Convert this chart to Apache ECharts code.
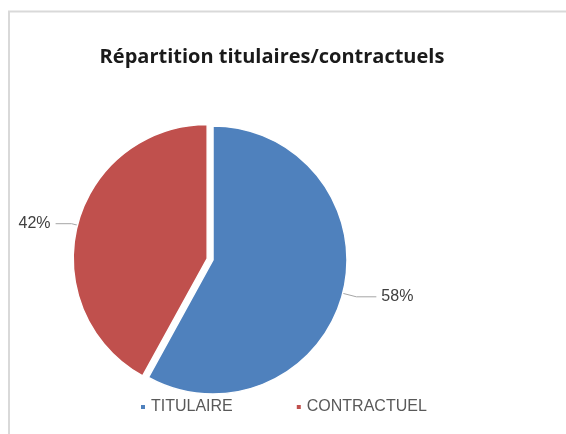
<!DOCTYPE html>
<html>
<head>
<meta charset="utf-8">
<script src="https://cdn.jsdelivr.net/npm/echarts@6/dist/echarts.min.js"></script>
<style>
  html, body { margin: 0; padding: 0; background: #fff; }
  #chart { width: 566px; height: 434px; }
</style>
</head>
<body>
<div id="chart"></div>
<script>
// données
const categories = ['TITULAIRE', 'CONTRACTUEL'];
const values = [58, 42];
const colors = ['#4f81bd', '#c0504d'];

const chart = echarts.init(document.getElementById('chart'));

chart.setOption({
    animation: false,
    title: {
        text: 'Répartition titulaires/contractuels',
        left: 267,
        textAlign: 'center',
        top: 42,
        textStyle: { fontFamily: 'Open Sans', fontWeight: 'bold', fontSize: 20, color: '#1a1a1a' }
    },
    legend: {
        data: categories,
        bottom: 14,
        left: 134,
        icon: 'rect',
        itemWidth: 6,
        itemHeight: 6,
        itemGap: 62,
        textStyle: { fontFamily: 'Liberation Sans', fontSize: 16, color: '#595959' }
    },
    graphic: [
        { type: 'line', shape: { x1: 8, y1: 11.5, x2: 566, y2: 11.5 }, style: { stroke: '#d9d9d9', lineWidth: 2 } },
        { type: 'line', shape: { x1: 9, y1: 11, x2: 9, y2: 434 }, style: { stroke: '#d9d9d9', lineWidth: 2 } }
    ],
    series: [{
        type: 'pie',
        center: [213, 260],
        radius: 134,
        startAngle: 90,
        clockwise: true,
        selectedMode: 'single',
        selectedOffset: 6,
        itemStyle: { borderColor: '#fff', borderWidth: 1.5 },
        label: {
            show: true,
            position: 'outside',
            formatter: '{d}%',
            fontFamily: 'Liberation Sans',
            fontSize: 16,
            color: '#404040'
        },
        labelLine: { length: 12, length2: 12, lineStyle: { color: '#a6a6a6', width: 1 } },
        data: categories.map((name, i) => ({
            name: name,
            value: values[i],
            selected: i === 1,
            itemStyle: { color: colors[i] },
            labelLine: i === 0 ? { length: 14, length2: 20 } : { length: 6, length2: 16 }
        }))
    }]
});
</script>
</body>
</html>
